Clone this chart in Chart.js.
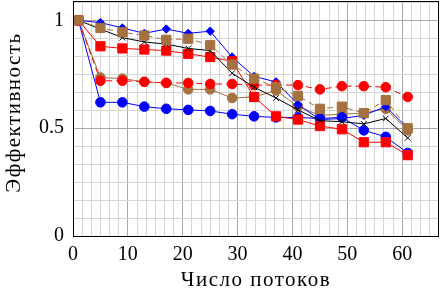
<!DOCTYPE html>
<html lang="ru">
<head>
<meta charset="UTF-8">
<title>Эффективность</title>
<script src="https://cdn.jsdelivr.net/npm/chart.js"></script>
<style>
  html, body { margin: 0; padding: 0; background: #fff; }
  #wrap { width: 441px; height: 290px; }
</style>
</head>
<body>
<div id="wrap"><canvas id="myChart" width="441" height="290"></canvas></div>
<script>
// число потоков
const threads = [1, 5, 9, 13, 17, 21, 25, 29, 33, 37, 41, 45, 49, 53, 57, 61];

// эффективность по сериям
const blueDiamond = [1, 0.99, 0.965, 0.94, 0.96, 0.94, 0.95, 0.83, 0.74, 0.715, 0.61, 0.54, 0.545, 0.56, 0.6, 0.5];
const blueCircle  = [1, 0.62, 0.62, 0.6, 0.59, 0.585, 0.58, 0.565, 0.555, 0.55, 0.55, 0.545, 0.55, 0.49, 0.46, 0.385];
const redSquare   = [1, 0.88, 0.87, 0.865, 0.86, 0.845, 0.83, 0.81, 0.645, 0.555, 0.54, 0.51, 0.495, 0.435, 0.435, 0.375];
const redCircle   = [1, 0.72, 0.72, 0.715, 0.71, 0.71, 0.705, 0.705, 0.7, 0.7, 0.7, 0.68, 0.695, 0.695, 0.69, 0.645];
const blackCross  = [1, 0.96, 0.92, 0.9, 0.89, 0.87, 0.86, 0.755, 0.69, 0.64, 0.585, 0.535, 0.53, 0.52, 0.545, 0.455];
const brownSquare = [1, 0.965, 0.945, 0.93, 0.91, 0.915, 0.885, 0.795, 0.73, 0.69, 0.65, 0.59, 0.6, 0.57, 0.63, 0.5];
const brownCircle = [1, 0.735, 0.73, 0.715, 0.71, 0.68, 0.68, 0.64, 0.645, 0.675, 0.6, 0.56, 0.565, 0.57, 0.59, 0.49];

const xTicks = [0, 10, 20, 30, 40, 50, 60];
const yTicks = [0, 0.5, 1];
const xTitle = 'Число потоков';
const yTitle = 'Эффективность';

const brown = '#a5713f';
const serif = "'Liberation Serif', 'DejaVu Serif', serif";

function pts(ys) {
    return threads.map((x, i) => ({ x: x, y: ys[i] }));
}

function series(label, ys, color, style, radius, dash) {
    return {
        label: label,
        data: pts(ys),
        showLine: true,
        borderColor: color,
        backgroundColor: color,
        borderWidth: 1,
        borderDash: dash || [],
        pointStyle: style,
        pointRadius: radius,
        pointBorderWidth: 1,
        pointBorderColor: color,
        pointBackgroundColor: color
    };
}

// сетка: 5 промежуточных линий между основными делениями
function minorTicks(max, major) {
    const step = major / 6;
    const out = [];
    for (let i = 0; i * step <= max + 1e-9; i++) out.push({ value: i * step });
    return out;
}
function isMajor(v, list) {
    return list.some(t => Math.abs(t - v) < 1e-6);
}

// рамка и подписи осей (с разрядкой, чтобы ширина была как у TeX-шрифта)
const frame = {
    id: 'frame',
    afterDraw(chart) {
        const a = chart.chartArea, c = chart.ctx;
        c.save();
        c.strokeStyle = '#000';
        c.lineWidth = 1;
        c.strokeRect(Math.round(a.left) + 0.5, Math.round(a.top) + 0.5,
                     Math.round(a.right - a.left) - 1, Math.round(a.bottom - a.top));
        c.fillStyle = '#000';
        c.font = '21px ' + serif;
        c.letterSpacing = '1.5px';
        c.textAlign = 'center';
        c.textBaseline = 'alphabetic';
        c.fillText(xTitle, (a.left + a.right) / 2, 286);
        c.translate(20, (a.top + a.bottom) / 2 - 6);
        c.rotate(-Math.PI / 2);
        c.fillText(yTitle, 0, 0);
        c.restore();
    }
};

const ctx = document.getElementById('myChart');
new Chart(ctx, {
    type: 'scatter',
    data: {
        datasets: [
            series('brown sq', brownSquare, brown, 'rect', 6.5, [6, 4]),
            series('black', blackCross, '#000', 'crossRot', 4),
            series('red circ', redCircle, '#ff0000', 'circle', 4.8, [6, 4]),
            series('red sq', redSquare, '#ff0000', 'rect', 6.5),
            series('blue circ', blueCircle, '#0000ff', 'circle', 4.8),
            series('blue diam', blueDiamond, '#0000ff', 'rectRot', 4.2),
            series('brown circ', brownCircle, brown, 'circle', 4.8)
        ]
    },
    options: {
        responsive: false,
        animation: false,
        layout: { autoPadding: false, padding: { top: 1, right: 2, left: 0, bottom: 0 } },
        plugins: { legend: { display: false }, tooltip: { enabled: false } },
        scales: {
            x: {
                type: 'linear',
                min: 0,
                max: 66.7,
                afterBuildTicks: s => { s.ticks = minorTicks(66.7, 10); },
                afterFit: s => { s.height = 54; s.paddingLeft = 0; s.paddingRight = 0; },
                border: { display: false },
                grid: {
                    drawTicks: false,
                    color: c => isMajor(c.tick.value, xTicks) ? '#a8a8a8' : '#d6d6d6',
                    lineWidth: 1
                },
                ticks: {
                    autoSkip: false,
                    maxRotation: 0,
                    padding: 7,
                    color: '#000',
                    font: { family: serif, size: 20 },
                    callback: v => isMajor(v, xTicks) ? String(Math.round(v)) : ''
                }
            },
            y: {
                type: 'linear',
                min: 0,
                max: 1.09,
                afterBuildTicks: s => { s.ticks = minorTicks(1.09, 0.5); },
                afterFit: s => { s.width = 73; s.paddingTop = 0; s.paddingBottom = 0; },
                border: { display: false },
                grid: {
                    drawTicks: false,
                    color: c => isMajor(c.tick.value, yTicks) ? '#a8a8a8' : '#d6d6d6',
                    lineWidth: 1
                },
                ticks: {
                    autoSkip: false,
                    padding: 9,
                    color: '#000',
                    font: { family: serif, size: 20 },
                    callback: v => isMajor(v, yTicks) ? String(Math.round(v * 10) / 10) : ''
                }
            }
        }
    },
    plugins: [frame]
});
</script>
</body>
</html>
